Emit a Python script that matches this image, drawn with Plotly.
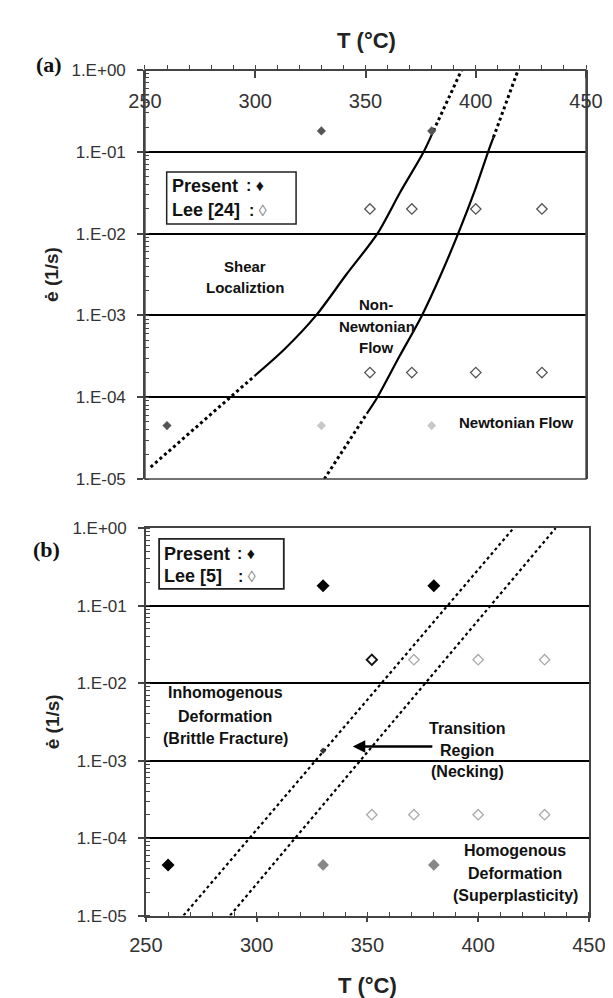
import plotly.graph_objects as go

W, H = 613, 998
SANS = "Liberation Sans, Arial, sans-serif"
SERIF = "Liberation Serif, Times New Roman, serif"

# ---------------- data ----------------
T_ticks = [250, 300, 350, 400, 450]
e_ticks = [1, 0.1, 0.01, 0.001, 0.0001, 0.00001]
e_ticklabels = ["1.E+00", "1.E-01", "1.E-02", "1.E-03", "1.E-04", "1.E-05"]

# panel (a)
a_present_dark_T = [260, 330, 380]
a_present_dark_e = [4.5e-5, 0.18, 0.18]
a_present_light_T = [330, 380]
a_present_light_e = [4.5e-5, 4.5e-5]
a_lee_T = [352, 371, 400, 430, 352, 371, 400, 430]
a_lee_e = [0.02, 0.02, 0.02, 0.02, 2e-4, 2e-4, 2e-4, 2e-4]

a_c1_low_T = [252.6, 299.7]
a_c1_low_e = [1.4e-5, 1.82e-4]
a_c1_mid_T = [299.7, 313.0, 327.6, 341.3, 355.4, 365.6, 376.4, 380.8]
a_c1_mid_e = [1.82e-4, 3.8e-4, 1.0e-3, 3.16e-3, 1.0e-2, 3.16e-2, 0.1, 0.18]
a_c1_top_T = [380.8, 393.6]
a_c1_top_e = [0.18, 1.0]

a_c2_low_T = [331.3, 350.6]
a_c2_low_e = [1.0e-5, 6.3e-5]
a_c2_mid_T = [350.6, 355.4, 365.4, 375.6, 384.2, 392.0, 399.2, 405.6, 408.0]
a_c2_mid_e = [6.3e-5, 1.0e-4, 3.16e-4, 1.0e-3, 3.16e-3, 1.0e-2, 3.16e-2, 0.1, 0.15]
a_c2_top_T = [408.0, 419.2]
a_c2_top_e = [0.15, 1.0]

# panel (b)
b_present_black_T = [330, 380, 260]
b_present_black_e = [0.18, 0.18, 4.5e-5]
b_present_gray_T = [330, 380]
b_present_gray_e = [4.5e-5, 4.5e-5]
b_present_small_T = [330]
b_present_small_e = [1.34e-3]
b_lee_dark_T = [352]
b_lee_dark_e = [0.02]
b_lee_light_T = [371, 400, 430, 352, 371, 400, 430]
b_lee_light_e = [0.02, 0.02, 0.02, 2e-4, 2e-4, 2e-4, 2e-4]

b_line1_T = [267, 416]
b_line1_e = [1e-5, 1.0]
b_line2_T = [288, 435]
b_line2_e = [1e-5, 1.0]

# ---------------- figure ----------------
fig = go.Figure()


def add_line(T, e, xa, ya, dash, smooth=False, width=2.5):
    fig.add_trace(go.Scatter(
        x=T, y=e, xaxis=xa, yaxis=ya, mode="lines",
        line=dict(color="black", width=width, dash=dash,
                  shape="spline" if smooth else "linear", smoothing=0.8),
        hoverinfo="skip", showlegend=False))


def add_markers(T, e, xa, ya, symbol, color, size=8, lw=1.5):
    fig.add_trace(go.Scatter(
        x=T, y=e, xaxis=xa, yaxis=ya, mode="markers",
        marker=dict(symbol=symbol, size=size, color=color,
                    line=dict(color=color, width=lw)),
        showlegend=False))


# panel (a) curves
add_line(a_c1_low_T, a_c1_low_e, "x", "y", "dot", width=3)
add_line(a_c1_mid_T, a_c1_mid_e, "x", "y", "solid", smooth=True, width=2.2)
add_line(a_c1_top_T, a_c1_top_e, "x", "y", "dot", width=3)
add_line(a_c2_low_T, a_c2_low_e, "x", "y", "dot", width=3)
add_line(a_c2_mid_T, a_c2_mid_e, "x", "y", "solid", smooth=True, width=2.2)
add_line(a_c2_top_T, a_c2_top_e, "x", "y", "dot", width=3)

add_markers(a_present_dark_T, a_present_dark_e, "x", "y", "diamond", "#555555", size=7, lw=0)
add_markers(a_present_light_T, a_present_light_e, "x", "y", "diamond", "#c8c8c8", size=7, lw=0)
add_markers(a_lee_T, a_lee_e, "x", "y", "diamond-open", "#555555", size=8, lw=1.3)

# panel (b) lines
add_line(b_line1_T, b_line1_e, "x2", "y2", "dot", width=2.2)
add_line(b_line2_T, b_line2_e, "x2", "y2", "dot", width=2.2)

add_markers(b_present_black_T, b_present_black_e, "x2", "y2", "diamond", "black", size=10, lw=0)
add_markers(b_present_gray_T, b_present_gray_e, "x2", "y2", "diamond", "#888888", size=9, lw=0)
add_markers(b_present_small_T, b_present_small_e, "x2", "y2", "diamond", "#333333", size=5, lw=0)
add_markers(b_lee_dark_T, b_lee_dark_e, "x2", "y2", "diamond-open", "#111111", size=8, lw=1.8)
add_markers(b_lee_light_T, b_lee_light_e, "x2", "y2", "diamond-open", "#aaaaaa", size=8, lw=1.3)

AXC = "#444444"
xcommon = dict(range=[250, 450], tickmode="array", tickvals=T_ticks,
               showline=True, linecolor=AXC, linewidth=1.5,
               showgrid=False, zeroline=False, tickcolor=AXC, tickwidth=1.5,
               tickfont=dict(family=SANS, size=20, color="#333333"))
ycommon = dict(type="log", range=[-5, 0], tickmode="array", tickvals=e_ticks,
               ticktext=e_ticklabels, ticks="outside", ticklen=6, tickwidth=1.5,
               tickcolor=AXC,
               minor=dict(ticks="inside", ticklen=4, dtick="D1", tickcolor=AXC,
                          tickwidth=1, showgrid=False),
               showgrid=True, gridcolor="black", gridwidth=1.5,
               showline=True, linecolor=AXC, linewidth=1.5, mirror=True,
               zeroline=False, ticklabelstandoff=8,
               tickfont=dict(family=SANS, size=17, color="#333333"),
               title=dict(text="<b>ė (1/s)</b>", standoff=8,
                          font=dict(family=SANS, size=19, color="#222222")))

A_TOP = 1 - 54 / H
A_BOT = 1 - 471 / H

fig.update_layout(
    width=W, height=H, margin=dict(l=0, r=0, t=0, b=0),
    paper_bgcolor="white", plot_bgcolor="white", showlegend=False,
    # panel (a): temperature axis drawn along the top edge, labels below the line
    xaxis=dict(domain=[127 / W, 594 / W], anchor="free", position=A_TOP,
               side="bottom", ticks="outside", ticklen=7,
               minor=dict(tickmode="linear", tick0=250, dtick=10, ticks="inside",
                          ticklen=4, tickcolor=AXC, tickwidth=1.2),
               ticklabelstandoff=6, **xcommon),
    yaxis=dict(domain=[A_BOT, A_TOP], anchor="x", **ycommon),
    xaxis2=dict(domain=[128 / W, 597 / W], anchor="y2", side="bottom",
                ticks="outside", ticklen=5, mirror=True,
                minor=dict(tickmode="linear", tick0=250, dtick=10, ticks="inside",
                           ticklen=4, tickcolor=AXC, tickwidth=1.2),
                ticklabelstandoff=6,
                title=dict(text="<b>T (°C)</b>", standoff=22,
                           font=dict(family=SANS, size=22, color="#222222")),
                **xcommon),
    yaxis2=dict(domain=[1 - 916 / H, 1 - 521 / H], anchor="x2", **ycommon),
)

# frame of panel (a)
fig.add_shape(type="rect", xref="x domain", yref="y domain", x0=0, x1=1, y0=0, y1=1,
              line=dict(color=AXC, width=1.5), fillcolor="rgba(0,0,0,0)", layer="above")


def px(x):
    return x / W


def py(y):
    return 1 - y / H


def text(x, y, s, size=15, anchor="center", color="#111111", family=SANS):
    fig.add_annotation(x=px(x), y=py(y), xref="paper", yref="paper", text=s,
                       showarrow=False, xanchor=anchor, yanchor="middle",
                       font=dict(family=family, size=size, color=color))


# top temperature axis title of panel (a)
text(362, 24, "<b>T (°C)</b>", size=22, color="#222222")

# panel labels
text(25, 48, "<b>(a)</b>", size=22, family=SERIF)
text(23, 543, "<b>(b)</b>", size=22, family=SERIF)

# panel (a) region labels
text(233, 254, "<b>Shear</b>")
text(233, 276, "<b>Localiztion</b>")
text(372, 293, "<b>Non-</b>")
text(373, 315, "<b>Newtonian</b>")
text(372, 337, "<b>Flow</b>")
text(520, 413, "<b>Newtonian Flow</b>")

# panel (b) region labels
text(212, 689, "<b>Inhomogenous</b>", size=16)
text(212, 713, "<b>Deformation</b>", size=16)
text(212, 736, "<b>(Brittle Fracture)</b>", size=16)
text(468, 725, "<b>Transition</b>", size=16)
text(468, 748, "<b>Region</b>", size=16)
text(468, 769, "<b>(Necking)</b>", size=16)
text(519, 850, "<b>Homogenous</b>", size=16)
text(519, 873, "<b>Deformation</b>", size=16)
text(519, 896, "<b>(Superplasticity)</b>", size=16)

# arrow in panel (b)
fig.add_annotation(x=343.4, y=-2.82, xref="x2", yref="y2",
                   ax=380, ay=-2.82, axref="x2", ayref="y2",
                   text="", showarrow=True, arrowhead=2, arrowsize=1,
                   arrowwidth=2.5, arrowcolor="black")

# legend boxes
fig.add_shape(type="rect", xref="paper", yref="paper",
              x0=px(150), x1=px(287), y0=py(211), y1=py(158),
              line=dict(color="#222222", width=1.5), fillcolor="white", layer="above")
fig.add_shape(type="rect", xref="paper", yref="paper",
              x0=px(142), x1=px(274), y0=py(583), y1=py(532),
              line=dict(color="#222222", width=1.8), fillcolor="white", layer="above")

text(153, 172, "<b>Present</b>", size=18, anchor="left")
text(232, 172, "<b>:</b> ♦", size=16, anchor="left")
text(153, 197, "<b>Lee [24]</b>", size=18, anchor="left")
text(235, 197, "<b>:</b> <span style='color:#888888'>◊</span>", size=16, anchor="left")

text(145, 547, "<b>Present</b>", size=18, anchor="left")
text(222, 547, "<b>:</b> ♦", size=16, anchor="left")
text(145, 570, "<b>Lee [5]</b>", size=18, anchor="left")
text(223, 570, "<b>:</b> <span style='color:#888888'>◊</span>", size=16, anchor="left")

fig.write_html("out.html")
